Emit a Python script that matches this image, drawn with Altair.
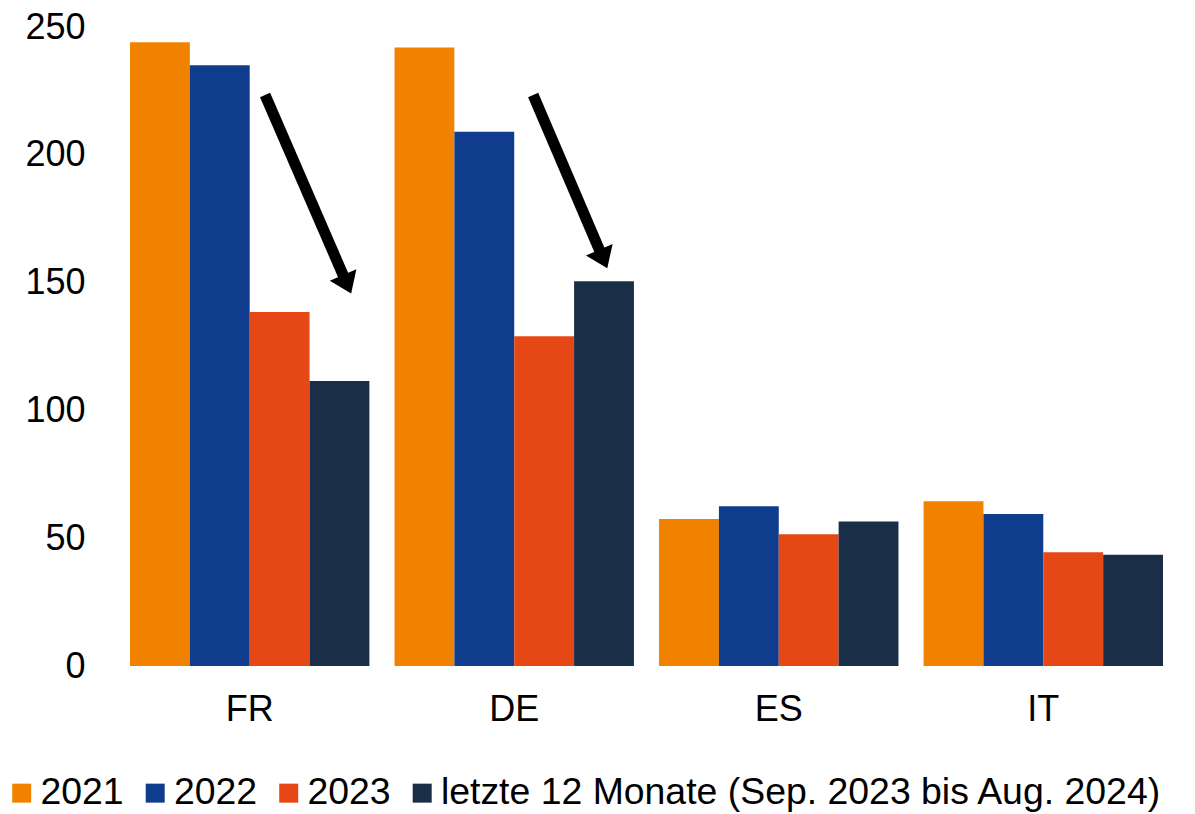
import altair as alt
import pandas as pd

countries = ["FR", "DE", "ES", "IT"]
series = ["2021", "2022", "2023", "letzte 12 Monate (Sep. 2023 bis Aug. 2024)"]
v2021 = [244, 242, 57.5, 64.5]
v2022 = [235, 209, 62.5, 59.5]
v2023 = [138.5, 129, 51.5, 44.5]
vlast = [111.5, 150.5, 56.5, 43.5]
colors = ["#F08200", "#0F3C8C", "#E54814", "#1B2E47"]

# arrow annotations (x in group units 0..4, y in data units)
arrow_id = ["FR", "FR", "DE", "DE"]
arrow_x = [0.523, 0.834, 1.561, 1.826]
arrow_y = [223.4, 150.9, 223.4, 160.8]
head_x = [0.834, 1.826]
head_y = [150.9, 160.8]
head_angle = [156.5, 156.8]

rows = []
for i, c in enumerate(countries):
    for s, vals in zip(series, [v2021, v2022, v2023, vlast]):
        rows.append({"country": c, "series": s, "value": vals[i]})
df = pd.DataFrame(rows)

arrows = pd.DataFrame({"id": arrow_id, "x": arrow_x, "y": arrow_y,
                       "order": [0, 1, 0, 1]})
heads = pd.DataFrame({"x": head_x, "y": head_y, "angle": head_angle})

FONT = "Liberation Sans"

yscale = alt.Scale(domain=[0, 250], nice=False, zero=True)

bars = alt.Chart(df).mark_bar(stroke=None).encode(
    x=alt.X("country:N", sort=countries,
            scale=alt.Scale(paddingInner=0.095, paddingOuter=0),
            axis=alt.Axis(title=None, labelAngle=0, domain=False, ticks=False,
                          labelFontSize=36, labelPadding=26, labelColor="#000",
                          labelFont=FONT)),
    xOffset=alt.XOffset("series:N", sort=series,
                        scale=alt.Scale(paddingInner=0, paddingOuter=0)),
    y=alt.Y("value:Q", scale=yscale,
            axis=alt.Axis(title=None, values=[0, 50, 100, 150, 200, 250],
                          domain=False, ticks=False, grid=False,
                          labelFontSize=36, labelPadding=45, labelColor="#000",
                          labelFont=FONT)),
    color=alt.Color("series:N", sort=series,
                    scale=alt.Scale(domain=series, range=colors),
                    legend=alt.Legend(title=None, orient="none", direction="horizontal",
                                      legendX=-127, legendY=747,
                                      symbolType="square", symbolSize=361,
                                      symbolStrokeWidth=0,
                                      labelFontSize=37.4, labelFont=FONT,
                                      labelColor="#000", labelLimit=0,
                                      labelOffset=0, columnPadding=12.5)),
)

xq = alt.Scale(domain=[0, 4], nice=False, zero=False)

lines = alt.Chart(arrows).mark_line(color="#000", strokeWidth=11, strokeCap="butt").encode(
    x=alt.X("x:Q", scale=xq, axis=None),
    y=alt.Y("y:Q", scale=yscale),
    detail="id:N",
    order="order:Q",
)

tips = alt.Chart(heads).mark_point(
    shape="M0,-1L1,0.4L-1,0.4Z", filled=True, color="#000", opacity=1,
    size=841, strokeWidth=0
).encode(
    x=alt.X("x:Q", scale=xq, axis=None),
    y=alt.Y("y:Q", scale=yscale),
    angle=alt.Angle("angle:Q", scale=None),
)

chart = alt.layer(bars, lines, tips).resolve_scale(x="independent").properties(
    width=1033, height=639,
    autosize="none",
    padding={"left": 122, "top": 19, "right": 24, "bottom": 146},
).configure(font=FONT).configure_view(stroke="transparent", strokeWidth=0)

chart.save("out.html", embed_options={"renderer": "svg", "actions": False})
